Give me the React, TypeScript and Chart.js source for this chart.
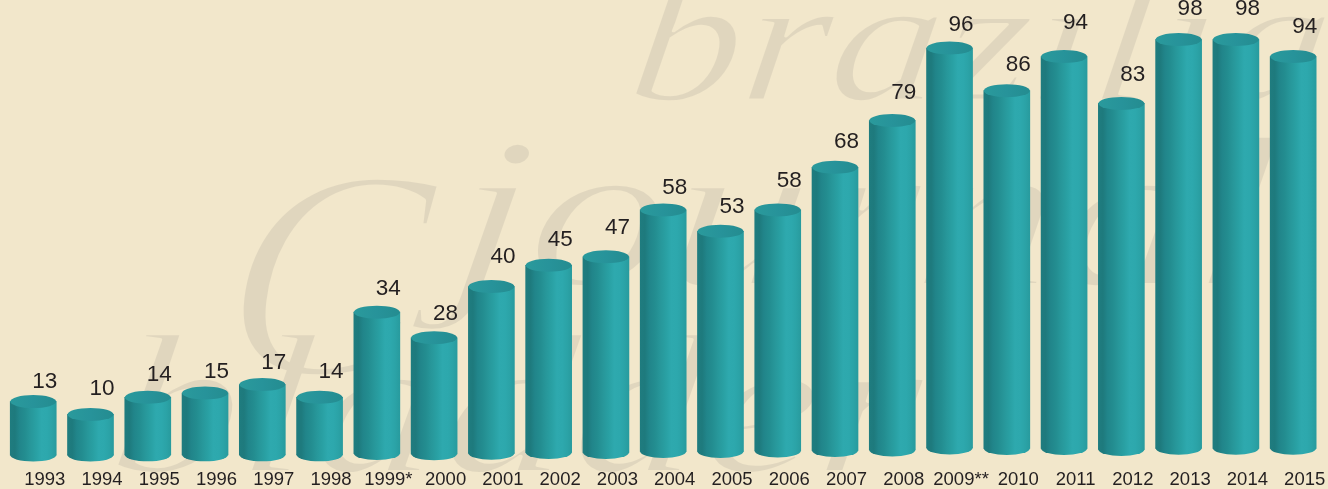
import React, { useEffect, useRef } from "react";
import { Chart, registerables } from "chart.js";

Chart.register(...registerables);

const years = ["1993","1994","1995","1996","1997","1998","1999*","2000","2001","2002","2003","2004","2005","2006","2007","2008","2009**","2010","2011","2012","2013","2014","2015"];
const articles = [13,10,14,15,17,14,34,28,40,45,47,58,53,58,68,79,96,86,94,83,98,98,94];
const baseLevels = [0.45,0.45,0.5,0.5,0.5,0.5,0.82,0.75,0.89,1.06,1.06,1.29,1.29,1.41,1.53,1.64,2.11,2.0,2.0,1.76,2.07,2.07,2.07];

const RY = 6.5;
const INK = "#231f20";
const BG = "#f2e7cb";
const WM = "#e0d6be";
// vertical gap (px) between each value label's centre and the top of its cylinder
const labelGaps = [14,20,17,15.5,16,20,18,18,24,20,23,17,19,24,20,22,18,20,28,23,25,25,24];

const sideStops: [number, string][] = [
  [0, "#1f7c7f"], [0.1, "#1e7a7d"], [0.2, "#21858a"], [0.32, "#238d90"], [0.44, "#27979a"],
  [0.56, "#29a0a3"], [0.68, "#2ea9ae"], [0.8, "#2da8ad"], [0.9, "#2ba3a7"], [1, "#289b9e"],
];

function sideGradient(ctx: CanvasRenderingContext2D, x0: number, x1: number) {
  const g = ctx.createLinearGradient(x0, 0, x1, 0);
  sideStops.forEach(([o, c]) => g.addColorStop(o, c));
  return g;
}

// thin, stretched watermark lettering: glyphs are filled then eroded on an off-screen layer
function watermark(ctx: CanvasRenderingContext2D, w: number, h: number, text: string, size: number, x: number, y: number, sx: number, erode: number) {
  const layer = document.createElement("canvas");
  layer.width = w;
  layer.height = h;
  const c = layer.getContext("2d")!;
  c.setTransform(sx, 0, -0.12, 1, x, y);
  c.font = `italic ${size}px 'Liberation Serif'`;
  c.fillStyle = WM;
  c.fillText(text, 0, 0);
  c.globalCompositeOperation = "destination-out";
  c.lineWidth = erode;
  c.lineJoin = "round";
  c.strokeStyle = "#000";
  c.strokeText(text, 0, 0);
  ctx.drawImage(layer, 0, 0);
}

const backdrop = {
  id: "backdrop",
  beforeDraw(chart: any) {
    const { ctx, width, height } = chart;
    ctx.save();
    ctx.fillStyle = BG;
    ctx.fillRect(0, 0, width, height);
    watermark(ctx, width, height, "brazilian", 180, 625, 100, 1.25, 3);
    watermark(ctx, width, height, "journal", 215, 445, 285, 1.3, 4);
    watermark(ctx, width, height, "C", 300, 215, 375, 1.0, 7);
    watermark(ctx, width, height, "bladder", 200, 105, 472, 1.3, 4);
    ctx.restore();
  },
};

const cylinders = {
  id: "cylinders",
  beforeDatasetsDraw(chart: any) {
    const { ctx } = chart;
    chart.getDatasetMeta(0).data.forEach((bar: any) => {
      const w = bar.width / 2;
      ctx.save();
      ctx.fillStyle = sideGradient(ctx, bar.x - w, bar.x + w);
      ctx.beginPath();
      ctx.ellipse(bar.x, bar.base, w, RY, 0, 0, Math.PI * 2);
      ctx.fill();
      ctx.restore();
    });
  },
  afterDatasetsDraw(chart: any) {
    const { ctx } = chart;
    chart.getDatasetMeta(0).data.forEach((bar: any, i: number) => {
      const w = bar.width / 2;
      ctx.save();
      const g = ctx.createLinearGradient(bar.x - w, 0, bar.x + w, 0);
      g.addColorStop(0, "#2a9a9c");
      g.addColorStop(0.5, "#27939a");
      g.addColorStop(1, "#248c90");
      ctx.fillStyle = g;
      ctx.beginPath();
      ctx.ellipse(bar.x, bar.y, w, RY, 0, 0, Math.PI * 2);
      ctx.fill();
      ctx.fillStyle = INK;
      ctx.font = "22.5px 'Liberation Sans'";
      ctx.textAlign = "center";
      ctx.textBaseline = "middle";
      ctx.fillText(String(articles[i]), bar.x + 11.5, bar.y - RY - labelGaps[i] + 1);
      ctx.restore();
    });
  },
};

export default function App() {
  const ref = useRef<HTMLCanvasElement>(null);
  useEffect(() => {
    const chart = new Chart(ref.current!, {
      type: "bar",
      data: {
        labels: years,
        datasets: [
          {
            data: articles.map((v, i) => [baseLevels[i], v]),
            barThickness: 46,
            borderWidth: 0,
            backgroundColor: (c: any) => {
              const x = c.chart.scales.x;
              const cx = x ? x.getPixelForValue(c.dataIndex) : NaN;
              if (!Number.isFinite(cx)) return "#2a9a9e";
              return sideGradient(c.chart.ctx, cx - 23, cx + 23);
            },
          } as any,
        ],
      },
      options: {
        animation: false,
        responsive: false,
        layout: { padding: { left: 4.6, right: 6.2, top: 1.2, bottom: 0 } },
        plugins: { legend: { display: false }, tooltip: { enabled: false } },
        scales: {
          x: {
            afterFit: (s: any) => { s.height = 32; },
            grid: { display: false, drawTicks: false },
            border: { display: false },
            ticks: {
              autoSkip: false,
              maxRotation: 0,
              minRotation: 0,
              padding: 12,
              labelOffset: 11.5,
              color: INK,
              font: { family: "'Liberation Sans'", size: 18.5 },
            },
          },
          y: { display: false, min: 0, max: 107 },
        },
      },
      plugins: [backdrop, cylinders],
    });
    return () => chart.destroy();
  }, []);
  return (
    <div style={{ position: "fixed", left: 0, top: 0, width: 1328, height: 489, overflow: "hidden" }}>
      <canvas ref={ref} width={1328} height={489} style={{ display: "block" }} />
    </div>
  );
}
